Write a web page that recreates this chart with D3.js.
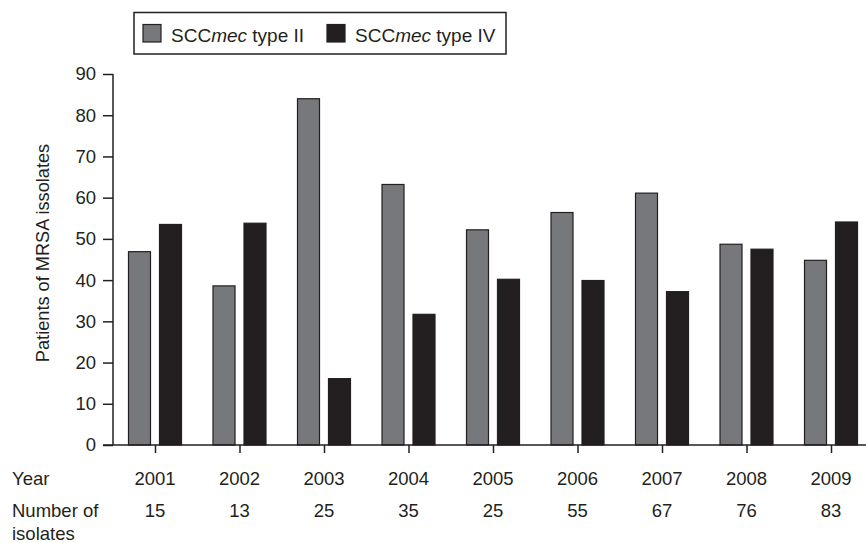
<!DOCTYPE html>
<html>
<head>
<meta charset="utf-8">
<script src="https://cdn.jsdelivr.net/npm/d3@7"></script>
<style>
  body { margin: 0; background: #fff; }
  svg text { font-family: "Liberation Sans", Arial, sans-serif; fill: #231f20; }
</style>
</head>
<body>
<svg width="866" height="543"></svg>
<script>
// data
var years = ["2001", "2002", "2003", "2004", "2005", "2006", "2007", "2008", "2009"];
var isolates = [15, 13, 25, 35, 25, 55, 67, 76, 83];
var typeII = [46.9, 38.6, 84.0, 63.2, 52.2, 56.4, 61.1, 48.7, 44.8];
var typeIV = [53.5, 53.8, 16.1, 31.7, 40.2, 39.9, 37.2, 47.5, 54.1];
var seriesNames = ["II", "IV"];
var yTicks = [0, 10, 20, 30, 40, 50, 60, 70, 80, 90];

var ink = "#231f20";
var colors = { II: "#77787b", IV: "#231f20" };

var svg = d3.select("svg");

var x = d3.scalePoint()
    .domain(years)
    .range([155, 831]);

var xSub = d3.scaleBand()
    .domain(seriesNames)
    .range([-26.5, 26.5])
    .paddingInner(0.29)
    .paddingOuter(0);

var y = d3.scaleLinear()
    .domain([0, 90])
    .range([445, 74]);

var rows = years.map(function(yr, i) {
  return { year: yr, II: typeII[i], IV: typeIV[i] };
});

// bars
var groups = svg.append("g")
    .selectAll("g")
    .data(rows)
    .enter()
    .append("g")
    .attr("transform", function(d) { return "translate(" + x(d.year) + ",0)"; });

groups.selectAll("rect")
    .data(function(d) { return seriesNames.map(function(s) { return { key: s, value: d[s] }; }); })
    .enter()
    .append("rect")
    .attr("x", function(d) { return xSub(d.key); })
    .attr("width", xSub.bandwidth())
    .attr("y", function(d) { return y(d.value); })
    .attr("height", function(d) { return y(0) - y(d.value); })
    .attr("fill", function(d) { return colors[d.key]; })
    .attr("stroke", ink)
    .attr("stroke-width", 1.2);

// y axis
var yAxis = d3.axisLeft(y)
    .tickValues(yTicks)
    .tickSize(10)
    .tickPadding(7);

var gy = svg.append("g")
    .attr("transform", "translate(113,0)")
    .call(yAxis);
gy.select(".domain").attr("stroke", ink).attr("stroke-width", 1.5).attr("d", "M0," + y(90) + "V" + y(0));
gy.selectAll(".tick line").attr("stroke", ink).attr("stroke-width", 1.5);
gy.selectAll(".tick text")
    .style("font-family", "'Liberation Sans', Arial, sans-serif")
    .style("font-size", "18.5px")
    .attr("fill", ink);

// x axis
var xAxis = d3.axisBottom(x)
    .tickSize(8)
    .tickFormat("");

var gx = svg.append("g")
    .attr("transform", "translate(0," + y(0) + ")")
    .call(xAxis);
gx.select(".domain").attr("stroke", ink).attr("stroke-width", 1.5).attr("d", "M103,0H866");
gx.selectAll(".tick line").attr("stroke", ink).attr("stroke-width", 1.5);

// y title
svg.append("text")
    .attr("transform", "translate(49,253) rotate(-90)")
    .attr("text-anchor", "middle")
    .style("font-size", "18.2px")
    .text("Patients of MRSA issolates");

// table under the axis
svg.append("text").attr("x", 12).attr("y", 485).style("font-size", "18.5px").text("Year");
svg.append("text").attr("x", 12).attr("y", 517).style("font-size", "18.5px").text("Number of");
svg.append("text").attr("x", 12).attr("y", 540).style("font-size", "18.5px").text("isolates");

svg.append("g").selectAll("text")
    .data(years)
    .enter()
    .append("text")
    .attr("x", function(d) { return x(d); })
    .attr("y", 485)
    .attr("text-anchor", "middle")
    .style("font-size", "18.5px")
    .text(function(d) { return d; });

svg.append("g").selectAll("text")
    .data(isolates)
    .enter()
    .append("text")
    .attr("x", function(d, i) { return x(years[i]); })
    .attr("y", 517)
    .attr("text-anchor", "middle")
    .style("font-size", "18.5px")
    .text(function(d) { return d; });

// legend
var legend = svg.append("g");
legend.append("rect")
    .attr("x", 134).attr("y", 12.5)
    .attr("width", 372).attr("height", 41.5)
    .attr("fill", "none")
    .attr("stroke", ink)
    .attr("stroke-width", 1.5);

var legendItems = [
  { key: "II", sx: 143, tx: 171 },
  { key: "IV", sx: 327, tx: 355 }
];
legendItems.forEach(function(it) {
  legend.append("rect")
      .attr("x", it.sx).attr("y", 24.5)
      .attr("width", 18).attr("height", 17.5)
      .attr("fill", colors[it.key])
      .attr("stroke", ink)
      .attr("stroke-width", 1.2);
  var t = legend.append("text")
      .attr("x", it.tx).attr("y", 41.5)
      .style("font-size", "19px");
  t.append("tspan").text("SCC");
  t.append("tspan").style("font-style", "italic").text("mec");
  t.append("tspan").text(" type " + it.key);
});
</script>
</body>
</html>
